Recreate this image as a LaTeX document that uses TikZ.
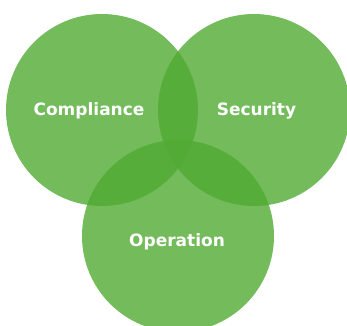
\documentclass[tikz,border=0pt]{standalone}
\usepackage{fontspec}
\newfontfamily\lblfont{DejaVu Sans}
\definecolor{vgreen}{RGB}{80,170,50}
\begin{document}
\begin{tikzpicture}[x=1pt,y=-1pt,
  venn/.style={circle, fill=vgreen, fill opacity=0.8, draw=none, minimum size=192pt, inner sep=0pt},
  lbl/.style={text=white, anchor=base, inner sep=0pt, font=\lblfont\bfseries\fontsize{17}{19}\selectfont}]
\useasboundingbox (0,0) rectangle (347,325);
\node[venn] (cl) at (102,110) {};
\node[venn] (cs) at (254,110) {};
\node[venn] (co) at (178,236) {};
\node[lbl] (tc) at (89,115) {Compliance};
\node[lbl] (ts) at (256.5,115) {Security};
\node[lbl] (to) at (177,246) {Operation};
\end{tikzpicture}
\end{document}
